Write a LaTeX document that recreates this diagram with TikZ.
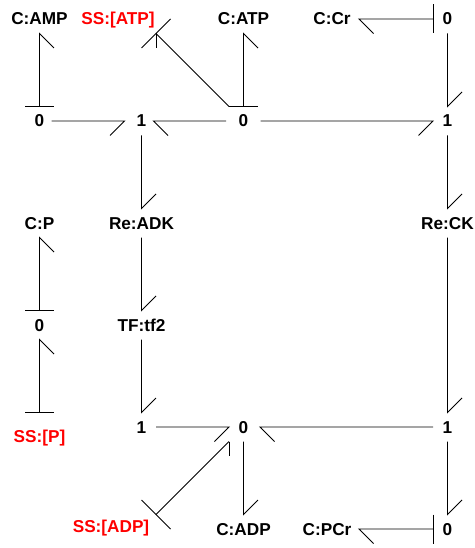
\documentclass[tikz,border=0pt]{standalone}
\usepackage{fontspec}
\setmainfont{Liberation Sans}
\tikzset{
  lbl/.style={inner sep=0pt,outer sep=0pt,font=\fontsize{17.2}{20}\selectfont\bfseries,text height=12pt,text depth=0pt,anchor=center},
  ss/.style={lbl,text=red},
  bond/.style={line width=0.95pt,line cap=butt,line join=miter,black}
}
\begin{document}
\begin{tikzpicture}[x=1pt,y=-1pt]
\useasboundingbox (0,0) rectangle (474,548);
% nodes
\node[lbl] (camp) at (39.5,19) {C:AMP};
\node[ss]  (ssatp) at (118,19) {SS:[ATP]};
\node[lbl] (catp) at (243.5,19) {C:ATP};
\node[lbl] (ccr) at (332,19) {C:Cr};
\node[lbl] (zcr) at (447.5,19) {0};
\node[lbl] (zamp) at (39.5,121) {0};
\node[lbl] (oadk) at (141.5,121) {1};
\node[lbl] (zatp) at (243.5,121) {0};
\node[lbl] (ock) at (447.5,121) {1};
\node[lbl] (cp) at (39.5,223) {C:P};
\node[lbl] (readk) at (141.5,223) {Re:ADK};
\node[lbl] (reck) at (447.5,223) {Re:CK};
\node[lbl] (zp) at (39.5,325) {0};
\node[lbl] (tf) at (141.5,325) {TF:tf2};
\node[lbl] (otf) at (141.5,427) {1};
\node[lbl] (zadp) at (243.5,427) {0};
\node[lbl] (opcr) at (447.5,427) {1};
\node[ss]  (ssp) at (39.5,436) {SS:[P]};
\node[ss]  (ssadp) at (111,526) {SS:[ADP]};
\node[lbl] (cadp) at (243.5,529) {C:ADP};
\node[lbl] (cpcr) at (327,529) {C:PCr};
\node[lbl] (zpcr) at (447.5,529) {0};
% vertical bonds with a bar at the foot: head at the top
\draw[bond] ([shift={(-14.5,-14.5)}]zamp.center) -- ++(29,0);
\draw[bond] ([shift={(0,-14.5)}]zamp.center) -- ([shift={(0,14.5)}]camp.center) -- ++(14.5,14.5);
\draw[bond] ([shift={(-14.5,-14.5)}]zp.center) -- ++(29,0);
\draw[bond] ([shift={(0,-14.5)}]zp.center) -- ([shift={(0,14.5)}]cp.center) -- ++(14.5,14.5);
\draw[bond] ([shift={(-14.5,-23.5)}]ssp.center) -- ++(29,0);
\draw[bond] ([shift={(0,-23.5)}]ssp.center) -- ([shift={(0,14.5)}]zp.center) -- ++(14.5,14.5);
% C:ATP from the 0 junction
\draw[bond] ([shift={(-14.5,-14.5)}]zatp.center) -- ++(29,0);
\draw[bond] ([shift={(0,-14.5)}]zatp.center) -- ([shift={(0,14.5)}]catp.center) -- ++(14.5,14.5);
% SS:[ATP] from the 0 junction
\draw[bond] ([shift={(-14.5,-14.5)}]zatp.center) -- ([shift={(38,14.5)}]ssatp.center);
\draw[bond] ([shift={(23.5,29)}]ssatp.center) -- ([shift={(52.5,0)}]ssatp.center);
\draw[bond] ([shift={(38,14.5)}]ssatp.center) -- ++(0,14.5);
% horizontal bonds, top row
\draw[bond] ([shift={(12,0)}]zamp.center) -- ([shift={(-17,0)}]oadk.center) -- ++(-14.5,14.5);
\draw[bond] ([shift={(-17.5,0)}]zatp.center) -- ([shift={(12,0)}]oadk.center) -- ++(14.5,14.5);
\draw[bond] ([shift={(17,0)}]zatp.center) -- ([shift={(-14.5,0)}]ock.center) -- ++(-14.5,14.5);
% C:Cr
\draw[bond] ([shift={(-14.5,-14.5)}]zcr.center) -- ++(0,29);
\draw[bond] ([shift={(-14.5,0)}]zcr.center) -- ([shift={(27,0)}]ccr.center) -- ++(14.5,14.5);
% right column
\draw[bond] ([shift={(0,14.5)}]zcr.center) -- ([shift={(0,-14.5)}]ock.center) -- ++(14.5,-14.5);
\draw[bond] ([shift={(0,14.5)}]ock.center) -- ([shift={(0,-14.5)}]reck.center) -- ++(14.5,-14.5);
\draw[bond] ([shift={(0,14.5)}]reck.center) -- ([shift={(0,-14.5)}]opcr.center) -- ++(14.5,-14.5);
\draw[bond] ([shift={(0,14.5)}]opcr.center) -- ([shift={(0,-14.5)}]zpcr.center) -- ++(14.5,-14.5);
% ADK column
\draw[bond] ([shift={(0,14.5)}]oadk.center) -- ([shift={(0,-14.5)}]readk.center) -- ++(14.5,-14.5);
\draw[bond] ([shift={(0,14.5)}]readk.center) -- ([shift={(0,-14.5)}]tf.center) -- ++(14.5,-14.5);
\draw[bond] ([shift={(0,14.5)}]tf.center) -- ([shift={(0,-14.5)}]otf.center) -- ++(14.5,-14.5);
% bottom row
\draw[bond] ([shift={(14.5,0)}]otf.center) -- ([shift={(-14.5,0)}]zadp.center) -- ++(-14.5,14.5);
\draw[bond] ([shift={(-14.5,0)}]opcr.center) -- ([shift={(16.5,0)}]zadp.center) -- ++(14.5,14.5);
% SS:[ADP]
\draw[bond] ([shift={(-14.5,14.5)}]zadp.center) -- ++(0,14.5);
\draw[bond] ([shift={(-14.5,14.5)}]zadp.center) -- ([shift={(45,-11.5)}]ssadp.center);
\draw[bond] ([shift={(30.5,-26)}]ssadp.center) -- ([shift={(59.5,3)}]ssadp.center);
% C:ADP
\draw[bond] ([shift={(0,14.5)}]zadp.center) -- ([shift={(0,-14.5)}]cadp.center) -- ++(14.5,-14.5);
% C:PCr
\draw[bond] ([shift={(-14.5,-14.5)}]zpcr.center) -- ++(0,29);
\draw[bond] ([shift={(-14.5,0)}]zpcr.center) -- ([shift={(32,0)}]cpcr.center) -- ++(14.5,14.5);
\end{tikzpicture}
\end{document}
